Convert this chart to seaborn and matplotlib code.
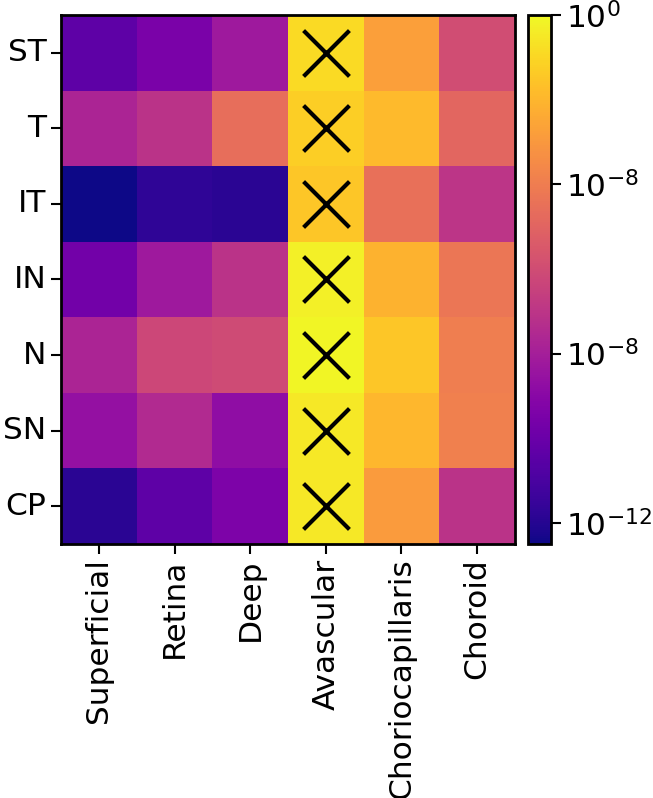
import numpy as np
import pandas as pd
import matplotlib
matplotlib.use("Agg")
import matplotlib.pyplot as plt
import seaborn as sns

rows = ["ST", "T", "IT", "IN", "N", "SN", "CP"]
cols = ["Superficial", "Retina", "Deep", "Avascular", "Choriocapillaris", "Choroid"]

# log10 values per cell (columns in order of `cols`)
superficial = [-10.4, -7.75, -12.5, -9.75, -7.75, -8.6, -11.9]
retina      = [-9.5, -7.1, -11.75, -8.25, -6.25, -7.5, -10.4]
deep        = [-8.25, -4.6, -11.9, -7.1, -6.1, -8.75, -9.4]
avascular   = [-0.9, -1.25, -1.5, -0.25, -0.1, -0.5, -0.5]
choriocap   = [-2.75, -1.9, -4.5, -2.1, -1.5, -2.0, -2.9]
choroid     = [-6.0, -4.9, -7.0, -4.25, -4.0, -3.9, -7.1]

cbar_ticks = [0, -4, -8, -12]
cbar_labels = ["$10^{0}$", "$10^{-8}$", "$10^{-8}$", "$10^{-12}$"]
vmin, vmax = -12.5, 0.0

df = pd.DataFrame({c: v for c, v in zip(cols, [superficial, retina, deep, avascular, choriocap, choroid])},
                  index=rows)

fig = plt.figure(figsize=(6.53, 7.98), dpi=100)
ax = fig.add_axes([61/653, 1-544/798, 454/653, 529/798])
cax = fig.add_axes([528/653, 1-544/798, 23/653, 529/798])

sns.heatmap(df, ax=ax, cbar_ax=cax, cmap="plasma", vmin=vmin, vmax=vmax, square=False)

# mark the Avascular column
ai = cols.index("Avascular")
ax.scatter([ai + 0.5] * len(rows), np.arange(len(rows)) + 0.5, marker="x", s=1090,
           c="black", linewidths=3, zorder=5)

fs = 22.5
ax.set_xticklabels(cols, rotation=90, fontsize=fs)
ax.set_yticklabels(rows, rotation=0, fontsize=fs)
ax.tick_params(axis="both", length=7, width=1.5, color="black")
for s in ax.spines.values():
    s.set_visible(True)
    s.set_linewidth(2)
    s.set_color("black")

cbar = ax.collections[0].colorbar
cbar.set_ticks(cbar_ticks)
cbar.set_ticklabels(cbar_labels)
cbar.ax.tick_params(labelsize=fs, length=7, width=1.5)
cbar.outline.set_visible(True)
cbar.outline.set_linewidth(2)
cbar.outline.set_edgecolor("black")

fig.savefig("out.png", dpi=100)
